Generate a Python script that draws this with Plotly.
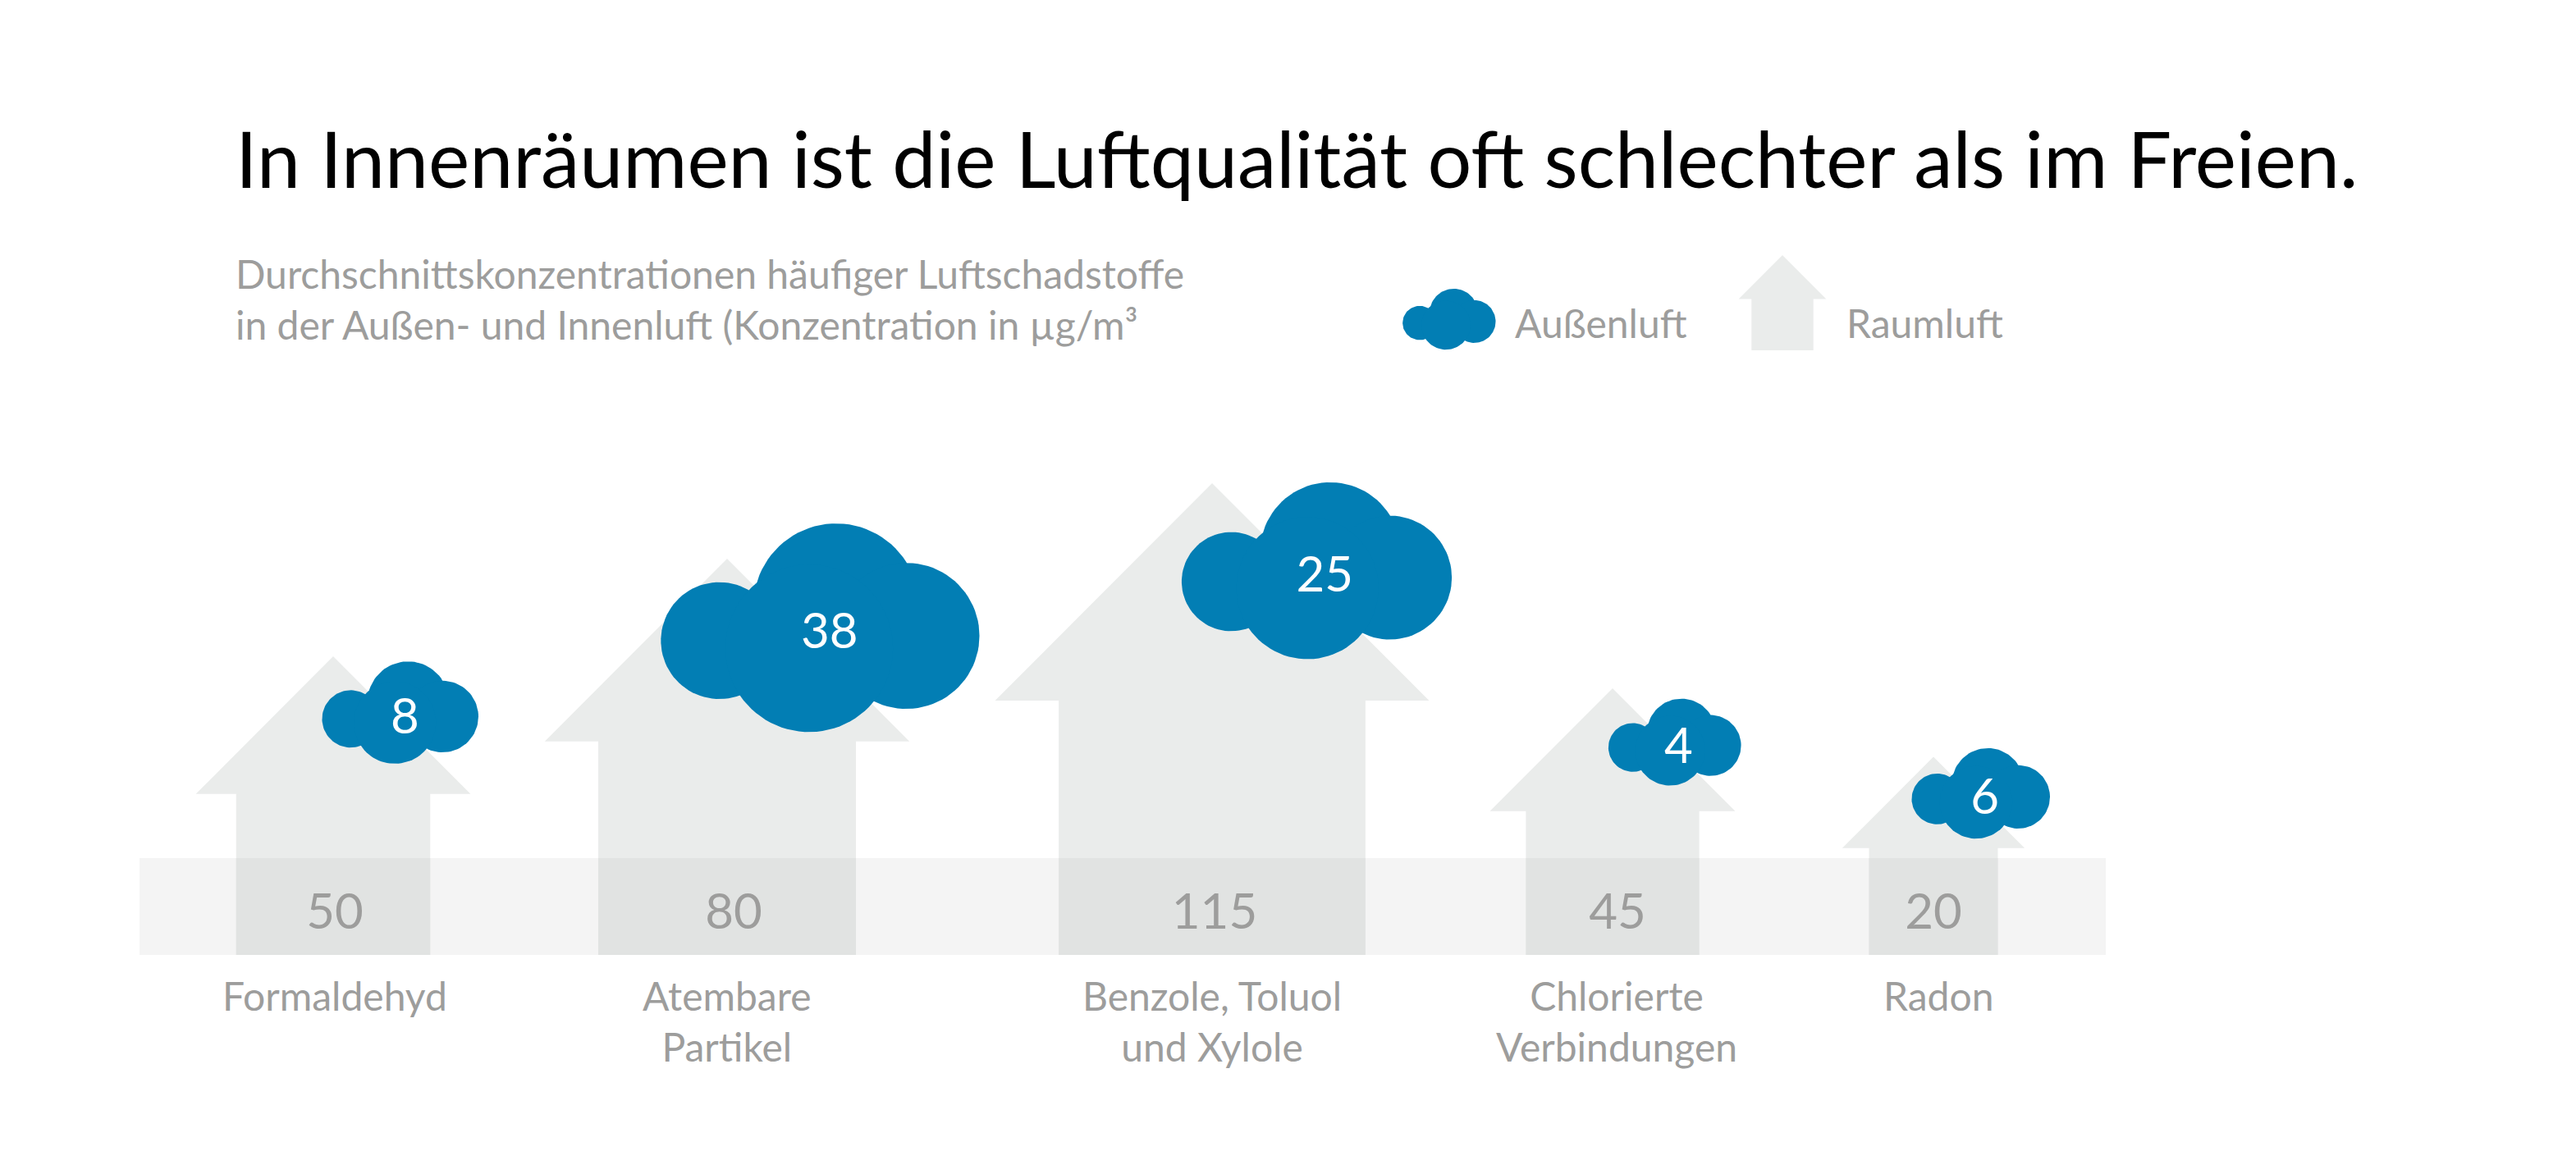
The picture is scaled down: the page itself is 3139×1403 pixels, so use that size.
import numpy as np
import plotly.graph_objects as go

# ---------- data ----------
categories = ["Formaldehyd", "Atembare<br>Partikel", "Benzole, Toluol<br>und Xylole",
              "Chlorierte<br>Verbindungen", "Radon"]
indoor = [50, 80, 115, 45, 20]
outdoor = [8, 38, 25, 4, 6]
title = "In Innenräumen ist die Luftqualität oft schlechter als im Freien."
subtitle = ("Durchschnittskonzentrationen häufiger Luftschadstoffe<br>"
            "in der Außen- und Innenluft (Konzentration in µg/m³")
legend_names = ["Außenluft", "Raumluft"]

# ---------- layout constants (page pixel axes) ----------
W, H = 3139, 1403
base_y, band_top, band_l, band_r = 1164, 1046, 170, 2566
house_x = [406, 886, 1477, 1965, 2356]
house_k = 54.0
house_adj = [0.953, 1.0, 0.993, 0.897, 1.0]
cloud_x = [488, 1000, 1605, 2041, 2414]
cloud_y = [868.5, 765, 695.5, 904.5, 967]
cloud_k = 65.0
cloud_adj = [1.033, 0.966, 1.01, 1.24, 1.055]
value_dx = [2, 8, 3, 6, 0]
label_dx = [2, 0, 0, 5, 6]
BLUE, HOUSE, BAND, OVER, GREY = "#027EB4", "#EAECEB", "#F4F4F4", "#E1E3E2", "#9D9D9C"
FONT = "Lato"
# unit cloud: circles (dx, dy, r) for width 1
lobes = [(-0.319, 0.041, 0.184), (0.049, -0.067, 0.261), (0.27, 0.026, 0.23), (-0.036, 0.065, 0.264)]


def house_path(cx, h):
    ew, bw, roof = 0.46 * h, 0.325 * h, 0.461 * h
    xs = [cx - bw, cx - bw, cx - ew, cx, cx + ew, cx + bw, cx + bw, cx - bw]
    top = base - h
    ys = [base, top + roof, top + roof, top, top + roof, top + roof, base, base]
    return xs, ys


def cloud_traces(cx, cy, w):
    out = []
    t = np.linspace(0, 2 * np.pi, 90)
    for dx, dy, r in lobes:
        out.append(go.Scatter(x=cx + w * (dx + r * np.cos(t)), y=cy + w * (dy + r * np.sin(t)),
                              mode="lines", line=dict(width=0), fill="toself", fillcolor=BLUE,
                              hoverinfo="skip", showlegend=False))
    return out


fig = go.Figure()
fig.add_trace(go.Scatter(x=[band_l, band_r, band_r, band_l, band_l],
                         y=[band_top, band_top, base_y, base_y, band_top],
                         mode="lines", line=dict(width=0), fill="toself", fillcolor=BAND,
                         hoverinfo="skip", showlegend=False))

base = base_y
heights = [house_k * np.sqrt(v) * a for v, a in zip(indoor, house_adj)]
for cx, h in zip(house_x, heights):
    xs, ys = house_path(cx, h)
    fig.add_trace(go.Scatter(x=xs, y=ys, mode="lines", line=dict(width=0), fill="toself",
                             fillcolor=HOUSE, hoverinfo="skip", showlegend=False))
    bw = 0.325 * h
    fig.add_trace(go.Scatter(x=[cx - bw, cx + bw, cx + bw, cx - bw, cx - bw],
                             y=[band_top, band_top, base_y, base_y, band_top],
                             mode="lines", line=dict(width=0), fill="toself", fillcolor=OVER,
                             hoverinfo="skip", showlegend=False))

widths = [cloud_k * np.sqrt(v) * a for v, a in zip(outdoor, cloud_adj)]
for cx, cy, w in zip(cloud_x, cloud_y, widths):
    fig.add_traces(cloud_traces(cx, cy, w))

# legend glyphs
base = 427
xs, ys = house_path(2172, 116)
fig.add_trace(go.Scatter(x=xs, y=ys, mode="lines", line=dict(width=0), fill="toself",
                         fillcolor=HOUSE, hoverinfo="skip", showlegend=False))
fig.add_traces(cloud_traces(1766, 389, 113))

# value labels
fig.add_trace(go.Scatter(x=[c + d for c, d in zip(house_x, value_dx)], y=[1117] * 5, mode="text",
                         text=[str(v) for v in indoor], textposition="middle center",
                         textfont=dict(family=FONT, size=60, color=GREY),
                         hoverinfo="skip", showlegend=False))
fig.add_trace(go.Scatter(x=[c + 0.028 * w for c, w in zip(cloud_x, widths)],
                         y=[c + 10 for c in cloud_y], mode="text",
                         text=[str(v) for v in outdoor], textposition="middle center",
                         textfont=dict(family=FONT, size=60, color="white"),
                         hoverinfo="skip", showlegend=False))

ann = []
for cx, d, c in zip(house_x, label_dx, categories):
    ann.append(dict(x=cx + d, y=1183, text=c, xanchor="center", yanchor="top", showarrow=False,
                    font=dict(family=FONT, size=48, color=GREY)))
ann.append(dict(x=285, y=192, text=title, xanchor="left", yanchor="middle", showarrow=False,
                font=dict(family=FONT, size=95, color="black")))
ann.append(dict(x=285, y=364, text=subtitle, xanchor="left", yanchor="middle", showarrow=False,
                align="left", font=dict(family=FONT, size=48, color=GREY)))
ann.append(dict(x=1844, y=393, text=legend_names[0], xanchor="left", yanchor="middle", showarrow=False,
                font=dict(family=FONT, size=48, color=GREY)))
ann.append(dict(x=2248, y=393, text=legend_names[1], xanchor="left", yanchor="middle", showarrow=False,
                font=dict(family=FONT, size=48, color=GREY)))

fig.update_layout(width=W, height=H, margin=dict(l=0, r=0, t=0, b=0), paper_bgcolor="white",
                  plot_bgcolor="white", showlegend=False, hovermode=False, annotations=ann,
                  xaxis=dict(range=[0, W], visible=False, fixedrange=True),
                  yaxis=dict(range=[H, 0], visible=False, fixedrange=True))
fig.write_html("out.html", post_script="document.body.style.margin='0';document.body.style.overflow='hidden';",
               config={"displayModeBar": False})
